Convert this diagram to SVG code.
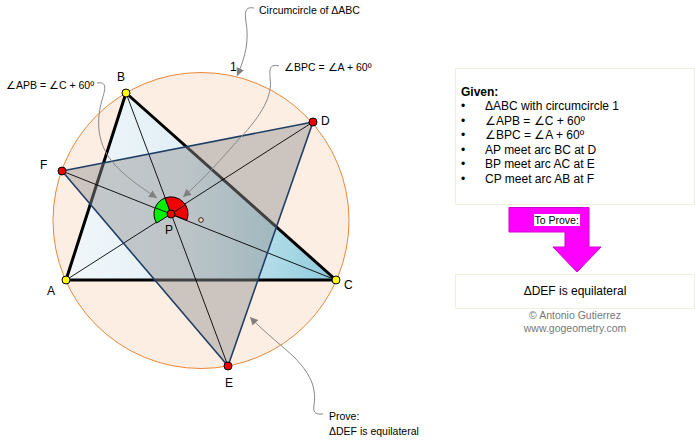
<svg xmlns="http://www.w3.org/2000/svg" width="696" height="444" viewBox="0 0 696 444">
<style>
text{font-family:"Liberation Sans",Arial,sans-serif;font-size:10.500px;fill:#000}
.n{font-size:12px}
.m{font-size:12px}
.g{fill:#777}
.box{fill:#fff;stroke:#f0eedd;stroke-width:1}
.cl{fill:none;stroke:#888;stroke-width:1;marker-end:url(#ah)}
.th{stroke:#000;stroke-width:.9;fill:none}
.v{stroke:#000;stroke-width:1}
</style>
<defs>
<marker id="ah" markerUnits="userSpaceOnUse" markerWidth="10" markerHeight="10" refX="8" refY="4" orient="auto"><path d="M0,0L8,4L0,8Z" fill="#808080"/></marker>
<linearGradient id="abc" gradientUnits="userSpaceOnUse" x1="66" y1="0" x2="336" y2="0"><stop offset="0" stop-color="#f2f7fb"/><stop offset=".45" stop-color="#e0eff5"/><stop offset="1" stop-color="#8ccbdc"/></linearGradient>
</defs>
<g id="circle"><circle cx="201" cy="220.5" r="148" fill="#fdeee3" stroke="#e8883a" stroke-width="1"/></g>
<g id="triangle-abc"><polygon points="66,280 126,93 336,280" fill="url(#abc)" stroke="#000" stroke-width="3" stroke-linejoin="round"/></g>
<g id="triangle-def"><polygon points="313,122 228,366 62,171" fill="#909090" fill-opacity=".45"/></g>
<g id="connectors">
<line class="th" x1="66" y1="280" x2="313" y2="122"/>
<line class="th" x1="126" y1="93" x2="228" y2="366"/>
<line class="th" x1="336" y1="280" x2="62" y2="171"/>
<polygon points="313,122 228,366 62,171" fill="none" stroke="#1f3f66" stroke-width="1.6" stroke-linejoin="round"/>
<path class="cl" d="M254,8C244,6 245,14 246,22C249,40 246,56 237,76"/>
<path class="cl" d="M279,66C268,63 270,72 270,78C273,95 262,115 240,138C222,158 205,178 183,197"/>
<path class="cl" d="M97,83C108,81 105,90 102,100C95,125 98,150 120,170C130,180 145,190 157,198"/>
<path class="cl" d="M323,414C314,415 313,411 314,405C317,385 308,372 295,358C285,348 265,333 250,317"/>
</g>
<g id="angles">
<path d="M171,214L156.600,223A17,17 0 0 1 165,198Z" fill="#00f000" stroke="#000"/>
<path d="M171,214L165,198A17,17 0 0 1 186.800,220.300Z" fill="#f00000" stroke="#000"/>
<line class="th" x1="171" y1="214" x2="155" y2="207.700"/>
<line class="th" x1="171" y1="214" x2="185.300" y2="204.800"/>
</g>
<g id="node-A"><circle class="v" cx="66" cy="280" r="4" fill="#ffff00"/><text class="n" x="47" y="295">A</text></g>
<g id="node-B"><circle class="v" cx="126" cy="93" r="4" fill="#ffff00"/><text class="n" x="117" y="81">B</text></g>
<g id="node-C"><circle class="v" cx="336" cy="280" r="4" fill="#ffff00"/><text class="n" x="344" y="289">C</text></g>
<g id="node-D"><circle class="v" cx="313" cy="122" r="4" fill="#f00000"/><text class="n" x="321" y="125">D</text></g>
<g id="node-E"><circle class="v" cx="228" cy="366" r="4" fill="#f00000"/><text class="n" x="225" y="387">E</text></g>
<g id="node-F"><circle class="v" cx="62" cy="171" r="4" fill="#f00000"/><text class="n" x="40" y="169">F</text></g>
<g id="node-P"><circle class="v" cx="171" cy="214" r="4" fill="#f00000"/><text class="n" x="165" y="234">P</text></g>
<g id="node-O"><circle cx="201" cy="220" r="2.300" fill="#fdd9b5" stroke="#000" stroke-width=".8"/></g>
<g id="labels">
<text x="259" y="14">Circumcircle of ΔABC</text>
<text class="n" x="230" y="71">1</text>
<text x="284" y="71">∠BPC =  ∠A + 60º</text>
<text x="6" y="89">∠APB = ∠C  + 60º</text>
<text x="329" y="420">Prove:</text>
<text x="329" y="435">ΔDEF is equilateral</text>
</g>
<g id="given">
<rect class="box" x="455.500" y="68.500" width="239" height="136"/>
<text class="m" x="461" y="96" font-weight="bold">Given:</text>
<text class="m" x="461" y="110">•</text><text class="m" x="485" y="110">ΔABC with circumcircle 1</text>
<text class="m" x="461" y="125">•</text><text class="m" x="485" y="125">∠APB = ∠C + 60º</text>
<text class="m" x="461" y="139">•</text><text class="m" x="485" y="139">∠BPC = ∠A  + 60º</text>
<text class="m" x="461" y="154">•</text><text class="m" x="485" y="154">AP meet arc BC at D</text>
<text class="m" x="461" y="168">•</text><text class="m" x="485" y="168">BP meet arc AC at E</text>
<text class="m" x="461" y="183">•</text><text class="m" x="485" y="183">CP meet arc AB at F</text>
</g>
<g id="to-prove">
<polygon points="509,207.500 589,207.500 589,247 601,247 577,272 553,247 565,247 565,232 509,232" fill="#ff00ff" stroke="#d000d0" stroke-width="1"/>
<rect x="534" y="214" width="46" height="12" fill="#fff"/>
<text x="534.500" y="223.500">To Prove:</text>
</g>
<g id="prove">
<rect class="box" x="455.500" y="274.500" width="239" height="34"/>
<text class="m" x="575" y="295" text-anchor="middle">ΔDEF is equilateral</text>
</g>
<g id="credit">
<text class="g" x="575" y="319" text-anchor="middle">© Antonio Gutierrez</text>
<text class="g" x="575" y="332" text-anchor="middle">www.gogeometry.com</text>
</g>
</svg>
